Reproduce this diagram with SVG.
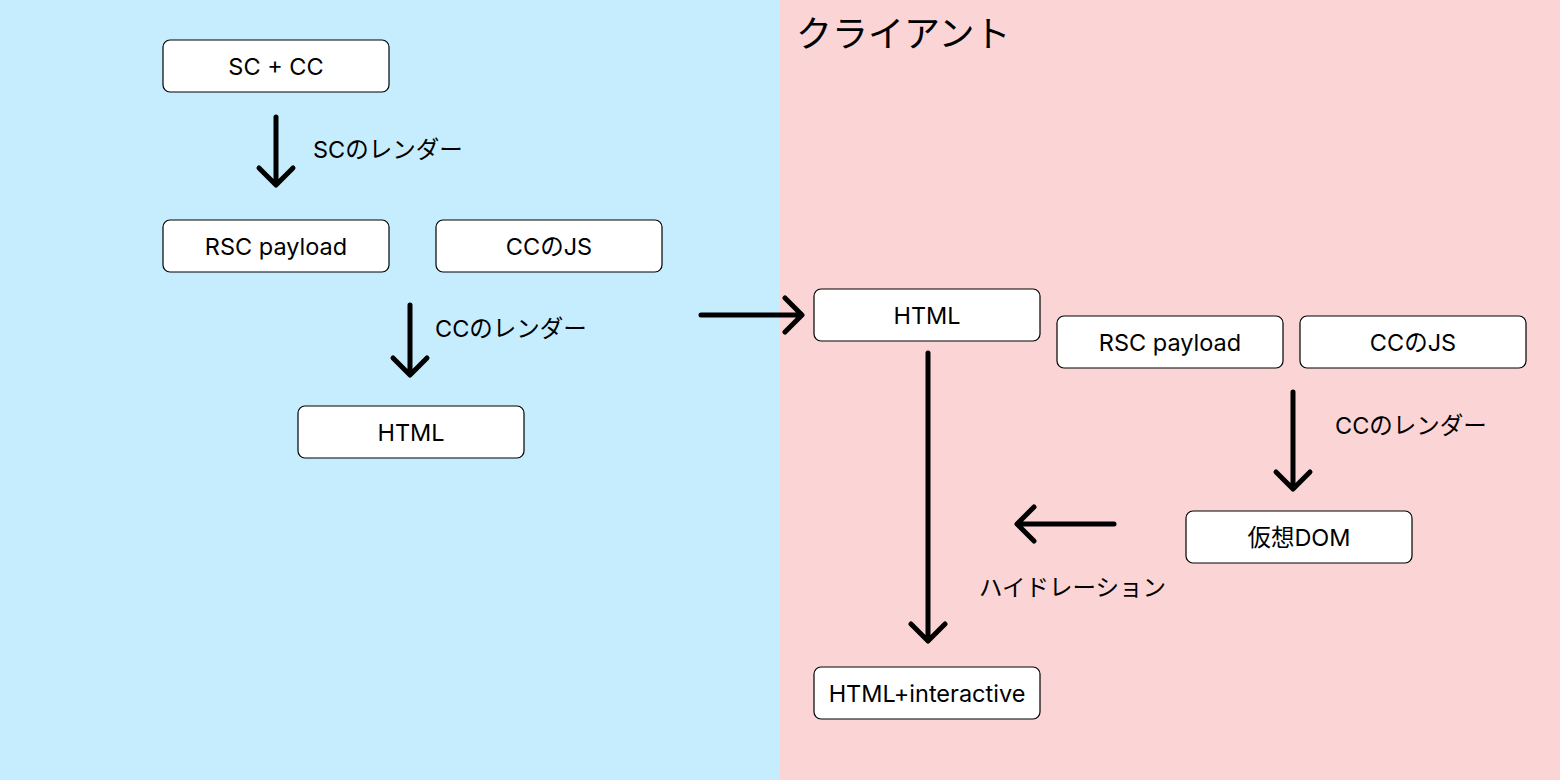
<svg xmlns="http://www.w3.org/2000/svg" width="1560" height="780" viewBox="0 0 1560 780">
<style>
.box{fill:#fff;stroke:#000;stroke-width:1.2}
.t{font-family:Inter,"Noto Sans CJK JP",sans-serif;font-size:23.5px;fill:#000}
.c{text-anchor:middle;dominant-baseline:central}
.a{fill:none;stroke:#000;stroke-width:5;stroke-linecap:round;stroke-linejoin:round}
</style>
<rect x="0" y="0" width="780" height="780" fill="#C6EDFD"/>
<rect x="780" y="0" width="780" height="780" fill="#FBD5D5"/>
<text x="796" y="47" class="t" style="font-size:36px">クライアント</text>
<g id="n1"><rect class="box" x="163" y="40" width="226" height="52" rx="7"/><text class="t c" x="276" y="66">SC + CC</text></g>
<g id="n2"><rect class="box" x="163" y="220" width="226" height="52" rx="7"/><text class="t c" x="276" y="246">RSC payload</text></g>
<g id="n3"><rect class="box" x="436" y="220" width="226" height="52" rx="7"/><text class="t c" x="549" y="246">CCのJS</text></g>
<g id="n4"><rect class="box" x="298" y="406" width="226" height="52" rx="7"/><text class="t c" x="411" y="432">HTML</text></g>
<g id="n5"><rect class="box" x="814" y="289" width="226" height="52" rx="7"/><text class="t c" x="927" y="315">HTML</text></g>
<g id="n6"><rect class="box" x="1057" y="316" width="226" height="52" rx="7"/><text class="t c" x="1170" y="342">RSC payload</text></g>
<g id="n7"><rect class="box" x="1300" y="316" width="226" height="52" rx="7"/><text class="t c" x="1413" y="342">CCのJS</text></g>
<g id="n8"><rect class="box" x="1186" y="511" width="226" height="52" rx="7"/><text class="t c" x="1299" y="537">仮想DOM</text></g>
<g id="n9"><rect class="box" x="814" y="667" width="226" height="52" rx="7"/><text class="t c" x="927" y="693">HTML+interactive</text></g>
<g id="connectors">
<path class="a" d="M276 117V184M259 168L276 185L293 168"/>
<path class="a" d="M410 305V374M393 358L410 375L427 358"/>
<path class="a" d="M701 315H801M785 298L802 315L785 332"/>
<path class="a" d="M928 353V640M911 624L928 641L945 624"/>
<path class="a" d="M1293 392V488M1276 472L1293 489L1310 472"/>
<path class="a" d="M1114 524H1018M1034 507L1017 524L1034 541"/>
</g>
<g id="labels">
<text class="t" x="313" y="158">SCのレンダー</text>
<text class="t" x="435" y="337">CCのレンダー</text>
<text class="t" x="1335" y="434">CCのレンダー</text>
<text class="t" x="979" y="596">ハイドレーション</text>
</g>
</svg>
